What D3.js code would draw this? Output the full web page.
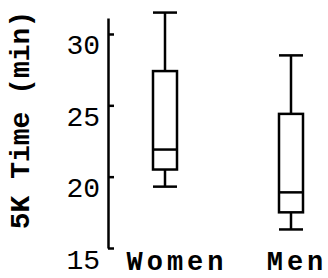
<!DOCTYPE html>
<html><head><meta charset="utf-8">
<script src="https://cdn.jsdelivr.net/npm/d3@7"></script>
<style>body{margin:0;background:#fff}svg{display:block}</style>
</head><body>
<svg id="c" width="328" height="278"></svg>
<script>
const categories = ["Women", "Men"];
const whiskerLow = [19.3, 16.3];
const q1 = [20.5, 17.5];
const medians = [21.9, 18.9];
const q3 = [27.4, 24.4];
const whiskerHigh = [31.5, 28.5];
const tickValues = [15, 20, 25, 30];
const yTitle = "5K Time (min)";

const svg = d3.select("#c");
const font = "'Liberation Mono', 'DejaVu Sans Mono', monospace";
const y = d3.scaleLinear().domain([15, 31.12]).range([248, 18]);
const x = d3.scalePoint().domain(categories).range([165, 291]);
const boxW = 24;
const labelShift = [12, 6];

const axis = d3.axisLeft(y).tickValues(tickValues).tickSize(-6).tickSizeOuter(0).tickPadding(8).tickFormat(d3.format("d"));
const g = svg.append("g").attr("transform", "translate(108,0)").call(axis);
g.select(".domain").attr("stroke", "#000").attr("stroke-width", 2.5);
g.selectAll(".tick line").attr("stroke", "#000").attr("stroke-width", 2.5);
g.selectAll(".tick text").attr("dy", null).attr("y", 20)
  .style("font-family", font).style("font-size", "28px").attr("fill", "#000");

svg.append("text")
  .attr("transform", "translate(29,120) rotate(-90)")
  .attr("text-anchor", "middle")
  .style("font-family", font).style("font-size", "28px").style("font-weight", "bold")
  .text(yTitle);

const data = categories.map((c, i) => ({c, lo: whiskerLow[i], q1: q1[i], med: medians[i], q3: q3[i], hi: whiskerHigh[i], shift: labelShift[i]}));
const bx = svg.append("g").attr("stroke", "#000").attr("stroke-width", 2.5).attr("fill", "none");
data.forEach(d => {
  const cx = x(d.c);
  bx.append("line").attr("x1", cx).attr("x2", cx).attr("y1", y(d.hi)).attr("y2", y(d.q3));
  bx.append("line").attr("x1", cx).attr("x2", cx).attr("y1", y(d.q1)).attr("y2", y(d.lo));
  bx.append("line").attr("x1", cx - boxW/2).attr("x2", cx + boxW/2).attr("y1", y(d.hi)).attr("y2", y(d.hi));
  bx.append("line").attr("x1", cx - boxW/2).attr("x2", cx + boxW/2).attr("y1", y(d.lo)).attr("y2", y(d.lo));
  bx.append("rect").attr("x", cx - boxW/2).attr("width", boxW).attr("y", y(d.q3)).attr("height", y(d.q1) - y(d.q3));
  bx.append("line").attr("x1", cx - boxW/2).attr("x2", cx + boxW/2).attr("y1", y(d.med)).attr("y2", y(d.med));
  svg.append("text").attr("x", cx + d.shift).attr("y", 270).attr("text-anchor", "middle")
    .style("font-family", font).style("font-size", "27px").style("font-weight", "bold")
    .style("letter-spacing", "4px")
    .text(d.c);
});
</script>
</body></html>
